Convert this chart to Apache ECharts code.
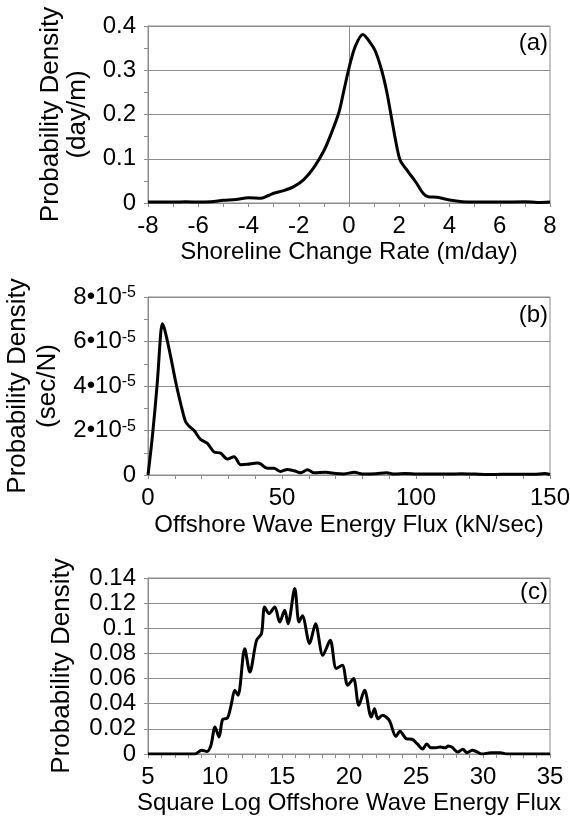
<!DOCTYPE html>
<html><head><meta charset="utf-8">
<script src="https://cdn.jsdelivr.net/npm/echarts@6/dist/echarts.min.js"></script>
<style>html,body{margin:0;padding:0;background:#fff}#c{width:570px;height:823px}</style>
</head><body><div id="c"></div>
<script>
// Panel (a): shoreline change rate density
const shoreX = [-8,-7,-6.5,-6,-5.5,-5,-4.5,-4,-3.5,-3.2,-3,-2.6,-2.2,-1.8,-1.4,-1,-0.7,-0.4,-0.2,0,0.25,0.55,0.85,1.05,1.3,1.5,1.7,1.9,2.05,2.35,2.65,2.95,3.15,3.5,4,4.5,5,6,7,7.5,8];
const shoreY = [0.002,0.002,0.003,0.002,0.003,0.006,0.008,0.012,0.011,0.017,0.022,0.028,0.037,0.053,0.08,0.118,0.158,0.205,0.255,0.305,0.354,0.381,0.362,0.343,0.3,0.252,0.19,0.128,0.095,0.071,0.048,0.022,0.014,0.013,0.007,0.003,0.002,0.002,0.003,0.001,0.002];
// Panel (b): offshore wave energy flux density
const fluxX = [0,1.6,3.5,4.7,5.3,6.3,8.5,10.3,12.2,14,15.3,17.2,19.6,22.1,24.6,27.1,29.6,32.1,34.6,37.1,40.8,42,44.5,47,49.5,52,54.5,57,59.5,62,66.3,70,73,77,80,85,89,92,96,100,105,110,117,122,127,132,138,144,148,150];
const fluxY = [0,1.69e-5,4.2e-5,6.3e-5,6.8e-5,6.5e-5,5.3e-5,4.2e-5,3.2e-5,2.4e-5,2.2e-5,2.0e-5,1.6e-5,1.43e-5,1.04e-5,0.98e-5,0.72e-5,0.82e-5,0.46e-5,0.48e-5,0.54e-5,0.5e-5,0.3e-5,0.3e-5,0.16e-5,0.25e-5,0.19e-5,0.1e-5,0.24e-5,0.1e-5,0.12e-5,0.07e-5,0.05e-5,0.12e-5,0.05e-5,0.06e-5,0.1e-5,0.04e-5,0.07e-5,0.05e-5,0.04e-5,0.04e-5,0.06e-5,0.04e-5,0.02e-5,0.03e-5,0.03e-5,0.03e-5,0.07e-5,0.02e-5];
// Panel (c): square log offshore wave energy flux density
const sqX = [5,6,7,8,8.5,9,9.4,9.7,10,10.3,10.57,10.93,11.2,11.48,11.72,12.22,12.6,13.1,13.47,13.7,14.03,14.46,14.83,15.2,15.45,15.95,16.27,16.52,17.06,17.5,18.05,18.6,19.05,19.5,19.9,20.34,20.73,21.16,21.66,21.9,22.15,22.5,23.0,23.5,23.8,24.3,24.7,25.1,25.5,25.8,26.1,26.5,26.8,27.2,27.4,27.7,28.1,28.5,28.8,29.2,29.5,29.9,30.6,31.3,31.8,33,35];
const sqY = [0,0,0,0,0,0.003,0.002,0.007,0.0215,0.0135,0.0276,0.0286,0.0387,0.0507,0.0467,0.0838,0.0652,0.0904,0.0958,0.117,0.1117,0.117,0.105,0.1143,0.1037,0.1316,0.105,0.110,0.0878,0.1037,0.0785,0.0904,0.068,0.0705,0.0547,0.06,0.0387,0.0507,0.0294,0.036,0.028,0.0308,0.0268,0.014,0.018,0.012,0.0117,0.008,0.004,0.008,0.005,0.005,0.0055,0.005,0.0064,0.0053,0.0016,0.0037,0.001,0.003,0.002,0,0.001,0.001,0,0,0];

const panelTags = ['(a)','(b)','(c)'];
const xNames = ['Shoreline Change Rate (m/day)','Offshore Wave Energy Flux (kN/sec)','Square Log Offshore Wave Energy Flux'];
const yNames = ['Probability Density\n(day/m)','Probability Density\n(sec/N)','Probability Density'];

const FONT = '"Liberation Sans", Arial, sans-serif';
const GC = '#8c8c8c';

function pairs(xs, ys){ return xs.map((x,i)=>[x, ys[i]]); }

const grids = [
  {left:148, right:20, top:26, height:177},
  {left:148, right:20, top:297, height:178},
  {left:148, right:20, top:578, height:176}
].map(g => Object.assign({show:true, borderColor:GC, borderWidth:1, backgroundColor:'transparent', containLabel:false, outerBoundsMode:'none'}, g));

function xAxis(i, min, max, interval, minorSplit, nameGap){
  return {type:'value', gridIndex:i, min, max, interval,
    name:xNames[i], nameLocation:'middle', nameGap,
    nameTextStyle:{fontFamily:FONT, fontSize:24, color:'#000'},
    axisLine:{show:true, onZero:false, lineStyle:{color:GC, width:1}},
    axisTick:{show:true, length:4, lineStyle:{color:GC}},
    minorTick:{show:true, splitNumber:minorSplit, length:4, lineStyle:{color:GC}},
    splitLine:{show:false}, minorSplitLine:{show:false},
    axisLabel:{fontFamily:FONT, fontSize:24, color:'#000', margin:11}};
}
function yAxis(i, min, max, interval, minorSplit, nameGap, lineHeight, extraLabel){
  return {type:'value', gridIndex:i, min, max, interval,
    name:yNames[i], nameLocation:'middle', nameGap, nameRotate:90,
    nameTextStyle:{fontFamily:FONT, fontSize:26, color:'#000', lineHeight:lineHeight},
    axisLine:{show:true, onZero:false, lineStyle:{color:GC, width:1}},
    axisTick:{show:true, length:4, lineStyle:{color:GC}},
    minorTick:{show:minorSplit>0, splitNumber:minorSplit||2, length:4, lineStyle:{color:GC}},
    splitLine:{show:true, lineStyle:{color:GC, width:1}},
    axisLabel:Object.assign({fontFamily:FONT, fontSize:24, color:'#000', margin:12}, extraLabel||{})};
}

const option = {
  animation:false,
  backgroundColor:'#fff',
  grid: grids,
  xAxis:[
    xAxis(0, -8, 8, 2, 2, 37),
    xAxis(1, 0, 150, 50, 5, 38),
    xAxis(2, 5, 35, 5, 5, 37)
  ],
  yAxis:[
    yAxis(0, 0, 0.4, 0.1, 2, 56, 27),
    yAxis(1, 0, 8e-5, 2e-5, 2, 84, 30, {
      formatter: function(v){
        if (Math.abs(v) < 1e-12) return '0';
        const m = Math.round(v/1e-5);
        return '{m|' + m + '\u2022' + '10}{s|-5}';
      },
      rich:{
        m:{fontFamily:FONT, fontSize:24, color:'#000'},
        s:{fontFamily:FONT, fontSize:16, color:'#000', verticalAlign:'top'}
      }
    }),
    yAxis(2, 0, 0.14, 0.02, 0, 73, 27)
  ],
  graphic:[
    {type:'text', x:548, y:43, style:{text:panelTags[0], font:'24px "Liberation Sans", Arial', fill:'#000', textAlign:'right', textVerticalAlign:'middle'}},
    {type:'text', x:548, y:315, style:{text:panelTags[1], font:'24px "Liberation Sans", Arial', fill:'#000', textAlign:'right', textVerticalAlign:'middle'}},
    {type:'text', x:548, y:592, style:{text:panelTags[2], font:'24px "Liberation Sans", Arial', fill:'#000', textAlign:'right', textVerticalAlign:'middle'}}
  ],
  series:[
    {type:'line', xAxisIndex:0, yAxisIndex:0, data:pairs(shoreX, shoreY), showSymbol:false, symbol:'none', smooth:0.3,
      lineStyle:{color:'#000', width:3}, z:3,
      markLine:{silent:true, symbol:['none','none'], label:{show:false}, lineStyle:{color:GC, width:1, type:'solid'}, data:[{xAxis:0}], z:1}},
    {type:'line', xAxisIndex:1, yAxisIndex:1, data:pairs(fluxX, fluxY), showSymbol:false, symbol:'none', smooth:0.3,
      lineStyle:{color:'#000', width:3}},
    {type:'line', xAxisIndex:2, yAxisIndex:2, data:pairs(sqX, sqY), showSymbol:false, symbol:'none', smooth:0.3,
      lineStyle:{color:'#000', width:3}}
  ]
};
const chart = echarts.init(document.getElementById('c'), null, {renderer:'canvas'});
chart.setOption(option);
</script>
</body></html>
